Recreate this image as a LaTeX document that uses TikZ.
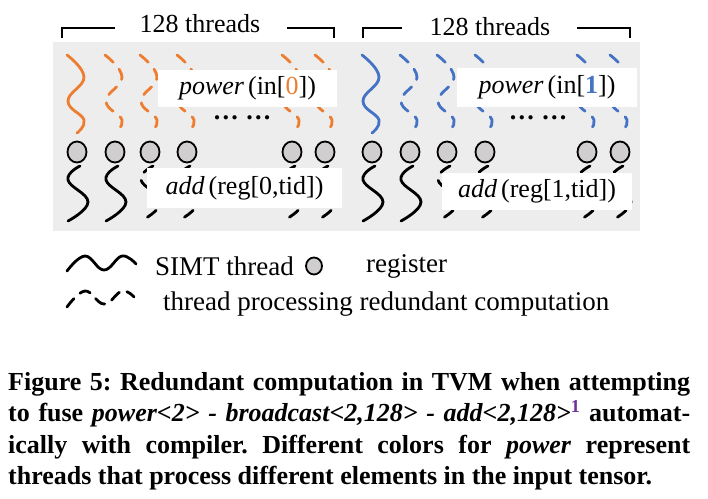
\documentclass[tikz,border=0pt]{standalone}
\usepackage{fontspec}
\setmainfont{Liberation Serif}
\usetikzlibrary{shapes.geometric}
\definecolor{orng}{HTML}{ED7D31}
\definecolor{blu}{HTML}{4472C4}
\definecolor{bggray}{HTML}{EDEDED}
\definecolor{regfill}{HTML}{D0CECE}
\definecolor{purp}{HTML}{7030A0}
\newcommand\topwave[2]{\draw[#2] plot[smooth,tension=0.75] coordinates {({#1-10},55) ({#1+7},77) ({#1-9},101) ({#1+7},120) ({#1},133)};}
\newcommand\botwave[2]{\draw[#2] plot[smooth,tension=0.75] coordinates {({#1+2},166) ({#1-10},180) ({#1+10},202) ({#1-10},221)};}
\begin{document}
\begin{tikzpicture}[x=1pt,y=-1pt,
  reg/.style={ellipse,draw=black,fill=regfill,line width=1.8pt,inner sep=0pt,minimum width=19pt,minimum height=21pt},
  thread/.style={line width=2.8pt,line cap=round},
  redund/.style={thread,dash pattern=on 11pt off 9pt},
  labelbox/.style={fill=white,inner sep=0pt,font=\fontsize{26}{30}\selectfont},
  txt/.style={inner sep=0pt,font=\fontsize{26}{30}\selectfont},
  legtxt/.style={inner sep=0pt,anchor=west,font=\fontsize{27}{30}\selectfont},
  bracket/.style={line width=1.1pt}]
\useasboundingbox (0,0) rectangle (708,498);
\fill[white] (0,0) rectangle (708,498);
% gray background
\fill[bggray] (53,42) rectangle (640,231);
% brackets and titles
\node[txt] (t1) at (200,24) {128 threads};
\node[txt] (t2) at (490,27) {128 threads};
\coordinate (b1a) at (62,38); \coordinate (b1b) at (62,28); \coordinate (b1c) at (115,28);
\coordinate (b1d) at (287,28); \coordinate (b1e) at (334,28); \coordinate (b1f) at (334,38);
\draw[bracket] (b1a) -- (b1b) -- (b1c);
\draw[bracket] (b1d) -- (b1e) -- (b1f);
\coordinate (b2a) at (363,38); \coordinate (b2b) at (363,28); \coordinate (b2c) at (402,28);
\coordinate (b2d) at (577,28); \coordinate (b2e) at (630,28); \coordinate (b2f) at (630,38);
\draw[bracket] (b2a) -- (b2b) -- (b2c);
\draw[bracket] (b2d) -- (b2e) -- (b2f);
% left panel threads
\topwave{77}{thread,orng}
\foreach \c in {115,150,187,292,325} {\topwave{\c}{redund,orng}}
\botwave{78}{thread,black}
\botwave{116}{thread,black}
\foreach \c in {151,188,293,326} {\botwave{\c}{redund,black}}
% right panel threads
\topwave{372}{thread,blu}
\foreach \c in {410,447,485,587,620} {\topwave{\c}{redund,blu}}
\botwave{373}{thread,black}
\botwave{411}{thread,black}
\foreach \c in {448,486,588,621} {\botwave{\c}{redund,black}}
% label boxes
\node[labelbox,minimum width=179pt,minimum height=37pt] (p0) at (247.5,88.5) {\textit{power}\kern4pt(in[{\color{orng}0}])};
\node[labelbox,minimum width=195pt,minimum height=40pt] (a0) at (244.5,188) {\textit{add}\kern4pt(reg[0,tid])};
\node[labelbox,minimum width=180pt,minimum height=39pt] (p1) at (547,87.5) {\textit{power}\kern4pt(in[{\color{blu}\bfseries 1}])};
\node[labelbox,minimum width=190pt,minimum height=37pt] (a1) at (537,191.5) {\textit{add}\kern4pt(reg[1,tid])};
% dots
\node[txt,font=\bfseries\fontsize{26}{30}\selectfont] (d0) at (242,118) {… …};
\node[txt,font=\bfseries\fontsize{26}{30}\selectfont] (d1) at (538,118) {… …};
% registers
\foreach \c [count=\i] in {77,115,150,187,292,325,372,410,447,485,587,620} {\node[reg] (r\i) at (\c,152) {};}
% legend
\draw[thread,black] plot[smooth,tension=0.7] coordinates {(67,271) (85,256) (104,270) (122,256) (136,264)};
\node[legtxt] (l1) at (155,266) {SIMT thread};
\node[reg,minimum width=16pt,minimum height=17pt] (lr) at (314,266) {};
\node[legtxt] (l2) at (366,266) {register};
\draw[redund,black,dash pattern=on 11pt off 8pt] plot[smooth,tension=0.7] coordinates {(67,307) (85,291) (104,304) (122,291) (134,297)};
\node[legtxt] (l3) at (163,304) {thread processing redundant computation};
% caption
\node[anchor=north west,text width=682pt,align=justify,inner sep=0pt,font=\bfseries\fontsize{26}{31.5}\selectfont] (cap) at (8,372)
{\frenchspacing Figure 5: Redundant computation in TVM when attempting\linebreak
to fuse \textit{power<2> - broadcast<2,128> - add<2,128>}\textsuperscript{\color{purp}1} automat-\linebreak
ically with compiler. Different colors for \textit{power} represent\linebreak
threads that process different elements in the input tensor.};
\end{tikzpicture}
\end{document}
